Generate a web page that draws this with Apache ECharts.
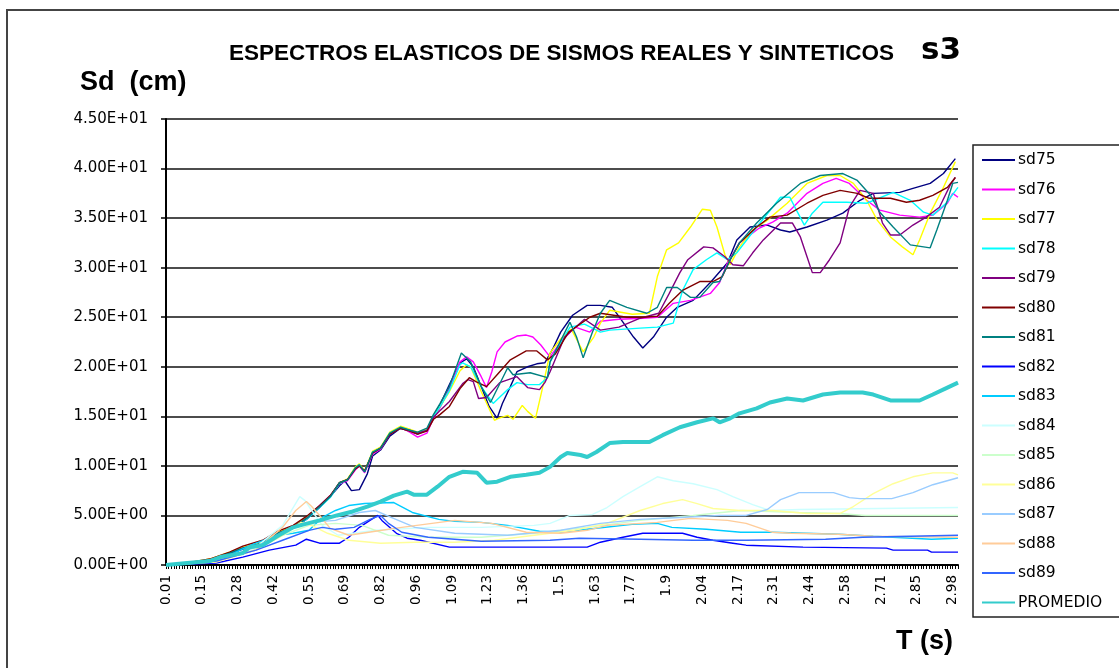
<!DOCTYPE html>
<html>
<head>
<meta charset="utf-8">
<script src="https://cdn.jsdelivr.net/npm/echarts@6/dist/echarts.min.js"></script>
<style>
  html, body { margin: 0; padding: 0; background: #fff; }
  #chart { width: 1119px; height: 668px; }
</style>
</head>
<body>
<div id="chart"></div>
<script>
// Period grid T (s): 0.01 .. 3.00 every 0.005 s
const categories = [];
for (let i = 0; i <= 598; i++) categories.push((0.01 + i * 0.005).toFixed(3));

// Printed period labels, one every 27 periods
const xTickLabels = ['0.01','0.15','0.28','0.42','0.55','0.69','0.82','0.96','1.09','1.23','1.36','1.5',
  '1.63','1.77','1.9','2.04','2.17','2.31','2.44','2.58','2.71','2.85','2.98'];

const seriesNames = ['sd75','sd76','sd77','sd78','sd79','sd80','sd81','sd82','sd83','sd84','sd85','sd86','sd87','sd88','sd89','PROMEDIO'];

// Spectral displacement Sd (cm) as [T, Sd] pairs
const sd75 = [[0.01,0],[0.09,0.2],[0.175,0.5],[0.25,1.1],[0.30,1.6],[0.375,2.1],[0.43,3.0],[0.49,3.7],[0.54,4.6],[0.59,5.8],[0.63,6.9],[0.665,8.0],[0.685,8.5],[0.71,7.5],[0.74,7.6],[0.77,9.2],[0.79,11.0],[0.82,11.6],[0.855,13.0],[0.895,13.8],[0.93,13.5],[0.96,13.2],[0.995,13.6],[1.02,15.0],[1.045,16.2],[1.08,18.2],[1.12,20.4],[1.145,20.8],[1.17,20.0],[1.2,18.0],[1.23,16.0],[1.26,14.8],[1.28,16.3],[1.31,18.0],[1.335,19.5],[1.375,20.0],[1.41,20.3],[1.44,20.4],[1.47,21.8],[1.5,23.5],[1.545,25.2],[1.6,26.2],[1.65,26.2],[1.695,26.0],[1.735,24.5],[1.775,23.0],[1.81,21.9],[1.85,23.0],[1.9,25.0],[1.94,26.0],[2.0,26.7],[2.065,28.5],[2.13,30.5],[2.165,32.8],[2.215,34.1],[2.28,34.3],[2.33,33.8],[2.365,33.6],[2.43,34.1],[2.505,34.8],[2.565,35.5],[2.63,36.8],[2.68,37.5],[2.78,37.6],[2.83,38.0],[2.895,38.5],[2.945,39.5],[2.99,41.0]];
const sd76 = [[0.01,0],[0.09,0.2],[0.175,0.5],[0.25,1.2],[0.30,1.7],[0.375,2.3],[0.43,3.2],[0.49,3.9],[0.54,4.8],[0.59,6.0],[0.63,7.0],[0.665,8.2],[0.695,8.5],[0.725,9.6],[0.74,10.0],[0.76,9.3],[0.79,11.2],[0.82,11.7],[0.855,13.2],[0.895,13.9],[0.93,13.4],[0.96,12.9],[0.995,13.3],[1.02,14.8],[1.045,15.9],[1.08,17.8],[1.12,20.5],[1.145,21.0],[1.17,20.5],[1.2,19.0],[1.22,17.9],[1.24,19.5],[1.26,21.5],[1.29,22.5],[1.335,23.1],[1.37,23.2],[1.395,23.0],[1.425,22.2],[1.445,21.5],[1.46,21.0],[1.5,22.5],[1.555,24.0],[1.61,23.5],[1.65,24.6],[1.72,24.8],[1.81,24.9],[1.865,25.0],[1.925,26.4],[1.99,26.7],[2.065,27.4],[2.1,28.5],[2.13,30.5],[2.175,32.5],[2.25,34.0],[2.3,34.6],[2.355,35.5],[2.43,37.5],[2.49,38.5],[2.54,39.0],[2.59,38.5],[2.655,36.8],[2.705,35.8],[2.78,35.3],[2.855,35.1],[2.905,35.3],[2.96,36.5],[2.98,37.5],[3.0,37.1]];
const sd77 = [[0.01,0],[0.09,0.2],[0.175,0.6],[0.25,1.3],[0.30,1.8],[0.375,2.3],[0.43,3.3],[0.49,3.9],[0.54,4.8],[0.59,5.9],[0.63,6.9],[0.665,8.3],[0.695,8.7],[0.725,9.9],[0.74,10.2],[0.76,9.5],[0.79,11.5],[0.82,11.9],[0.855,13.4],[0.895,14.0],[0.93,13.7],[0.96,13.4],[0.995,13.7],[1.02,15.0],[1.045,16.0],[1.08,17.5],[1.12,19.6],[1.145,20.2],[1.16,20.0],[1.2,17.5],[1.25,14.6],[1.265,14.8],[1.3,15.1],[1.32,14.7],[1.355,16.1],[1.375,15.5],[1.405,14.8],[1.43,17.7],[1.46,21.4],[1.5,22.8],[1.54,23.8],[1.585,21.5],[1.625,23.0],[1.65,24.4],[1.685,25.7],[1.77,25.3],[1.835,25.4],[1.865,29.1],[1.9,31.8],[1.945,32.5],[1.99,34.1],[2.035,35.9],[2.065,35.8],[2.09,34.1],[2.12,31.3],[2.14,30.3],[2.175,32.1],[2.225,33.8],[2.28,34.8],[2.355,36.5],[2.43,38.5],[2.505,39.3],[2.555,39.3],[2.605,38.5],[2.655,36.8],[2.695,34.8],[2.745,33.1],[2.79,32.1],[2.83,31.3],[2.855,32.8],[2.895,35.5],[2.945,38.1],[2.99,40.7]];
const sd78 = [[0.01,0],[0.09,0.2],[0.175,0.5],[0.25,1.2],[0.30,1.7],[0.375,2.2],[0.43,3.1],[0.49,3.8],[0.54,4.6],[0.59,5.8],[0.63,6.8],[0.665,8.2],[0.695,8.6],[0.725,9.8],[0.74,10.1],[0.76,9.4],[0.79,11.4],[0.82,11.8],[0.855,13.3],[0.895,13.9],[0.93,13.6],[0.96,13.3],[0.995,13.6],[1.02,15.0],[1.045,16.0],[1.08,17.6],[1.12,20.2],[1.13,20.4],[1.16,20.0],[1.2,18.0],[1.245,16.3],[1.3,17.7],[1.335,18.4],[1.375,18.2],[1.42,18.2],[1.45,18.9],[1.46,20.5],[1.535,24.0],[1.59,24.3],[1.65,23.5],[1.685,23.7],[1.8,23.9],[1.865,24.0],[1.925,24.4],[1.96,27.7],[2.0,29.8],[2.05,30.8],[2.09,31.5],[2.13,30.8],[2.165,31.5],[2.24,34.1],[2.3,36.1],[2.33,37.1],[2.365,37.1],[2.39,35.8],[2.42,34.3],[2.45,35.5],[2.49,36.6],[2.58,36.6],[2.655,36.5],[2.755,37.6],[2.82,36.8],[2.87,35.6],[2.905,35.3],[2.955,36.5],[3.0,38.1]];
const sd79 = [[0.01,0],[0.09,0.2],[0.175,0.5],[0.25,1.2],[0.30,1.7],[0.375,2.2],[0.43,3.2],[0.49,3.8],[0.54,4.7],[0.59,5.9],[0.63,6.9],[0.665,8.3],[0.695,8.6],[0.725,9.7],[0.74,10.0],[0.76,9.4],[0.79,11.3],[0.82,11.8],[0.855,13.2],[0.895,13.8],[0.93,13.6],[0.96,13.3],[0.995,13.6],[1.02,14.9],[1.045,15.6],[1.08,16.5],[1.13,18.3],[1.15,18.7],[1.17,18.5],[1.19,16.8],[1.22,16.9],[1.27,18.4],[1.335,19.0],[1.375,17.9],[1.42,17.7],[1.44,18.4],[1.46,19.5],[1.515,23.0],[1.59,24.8],[1.65,23.7],[1.72,24.0],[1.8,24.9],[1.87,25.4],[1.91,27.4],[1.95,29.5],[1.98,30.8],[2.04,32.1],[2.075,32.0],[2.12,31.1],[2.15,30.3],[2.19,30.2],[2.225,31.5],[2.265,32.8],[2.33,34.5],[2.375,34.5],[2.405,33.1],[2.43,31.1],[2.45,29.5],[2.48,29.5],[2.515,30.8],[2.555,32.5],[2.59,36.1],[2.63,37.8],[2.68,37.5],[2.715,34.5],[2.745,33.3],[2.78,33.3],[2.83,34.3],[2.88,35.1],[2.93,36.1],[2.97,38.3],[2.99,39.1]];
const sd80 = [[0.01,0],[0.09,0.2],[0.175,0.6],[0.25,1.3],[0.30,1.9],[0.375,2.5],[0.43,3.4],[0.49,4.0],[0.54,4.9],[0.59,6.0],[0.63,7.0],[0.665,8.3],[0.695,8.6],[0.725,9.7],[0.74,10.0],[0.76,9.5],[0.79,11.3],[0.82,11.8],[0.855,13.2],[0.895,13.8],[0.93,13.5],[0.96,13.2],[0.995,13.5],[1.02,14.7],[1.045,15.2],[1.08,16.0],[1.12,17.8],[1.155,18.9],[1.18,18.5],[1.22,18.0],[1.26,19.2],[1.31,20.7],[1.37,21.6],[1.41,21.6],[1.45,20.7],[1.48,21.3],[1.53,23.5],[1.61,25.0],[1.65,25.4],[1.75,25.0],[1.81,25.0],[1.865,25.1],[1.91,26.4],[1.96,27.7],[2.025,28.6],[2.075,28.6],[2.11,29.1],[2.14,30.8],[2.175,32.5],[2.24,34.1],[2.29,35.1],[2.355,35.3],[2.43,36.5],[2.49,37.3],[2.555,37.8],[2.62,37.5],[2.665,37.0],[2.745,37.0],[2.805,36.6],[2.855,36.8],[2.905,37.3],[2.96,38.1],[2.99,39.1]];
const sd81 = [[0.01,0],[0.09,0.2],[0.175,0.5],[0.25,1.2],[0.30,1.7],[0.375,2.2],[0.43,3.2],[0.49,3.8],[0.54,4.7],[0.59,5.9],[0.63,6.9],[0.665,8.3],[0.695,8.6],[0.725,9.8],[0.74,10.1],[0.76,9.4],[0.79,11.4],[0.82,11.8],[0.855,13.3],[0.895,13.9],[0.93,13.6],[0.96,13.4],[0.995,13.8],[1.02,15.2],[1.045,16.3],[1.08,18.0],[1.127,21.4],[1.16,20.5],[1.2,18.0],[1.235,16.4],[1.3,19.9],[1.32,19.2],[1.385,19.4],[1.45,18.9],[1.46,20.5],[1.535,24.5],[1.56,23.0],[1.585,20.9],[1.62,23.5],[1.65,25.4],[1.685,26.7],[1.75,26.0],[1.825,25.4],[1.865,26.0],[1.9,28.0],[1.94,28.0],[1.99,27.0],[2.025,27.0],[2.075,28.5],[2.1,28.6],[2.14,30.8],[2.175,32.5],[2.24,34.5],[2.315,36.5],[2.405,38.5],[2.48,39.3],[2.565,39.5],[2.62,38.8],[2.67,37.3],[2.705,35.6],[2.755,34.1],[2.82,32.3],[2.895,32.0],[2.92,33.8],[2.96,36.8],[2.98,38.5],[3.0,38.6]];
const sd82 = [[0.01,0],[0.2,0.2],[0.3,0.8],[0.4,1.5],[0.5,2.0],[0.54,2.6],[0.59,2.2],[0.63,2.2],[0.665,2.2],[0.7,2.8],[0.74,3.8],[0.78,4.5],[0.81,5.0],[0.825,4.5],[0.88,3.2],[0.92,2.7],[0.97,2.5],[1.08,1.8],[1.5,1.8],[1.6,1.8],[1.65,2.3],[1.735,2.8],[1.81,3.2],[1.96,3.2],[2.015,2.8],[2.075,2.5],[2.15,2.2],[2.2,2.0],[2.415,1.8],[2.73,1.7],[2.755,1.5],[2.885,1.5],[2.9,1.3],[3.0,1.3]];
const sd83 = [[0.01,0],[0.14,0.3],[0.25,1.0],[0.33,2.0],[0.43,3.0],[0.49,3.2],[0.55,3.5],[0.6,4.8],[0.65,5.5],[0.7,6.0],[0.76,6.2],[0.87,6.3],[0.94,5.3],[1.04,4.6],[1.1,4.4],[1.2,4.3],[1.3,4.0],[1.42,3.4],[1.5,3.3],[1.6,3.6],[1.77,4.1],[1.865,4.2],[1.92,3.8],[2.05,3.6],[2.18,3.3],[2.3,3.3],[2.55,3.1],[2.68,2.9],[2.9,2.6],[3.0,2.7]];
const sd84 = [[0.01,0],[0.2,0.5],[0.35,1.8],[0.45,4.0],[0.515,6.9],[0.535,6.5],[0.56,5.5],[0.6,4.0],[0.66,3.0],[0.8,3.5],[1.0,3.8],[1.2,3.8],[1.4,4.0],[1.46,4.2],[1.535,5.0],[1.62,5.1],[1.675,5.8],[1.735,6.9],[1.8,7.9],[1.865,8.9],[1.925,8.5],[2.0,8.2],[2.09,7.6],[2.15,6.9],[2.225,6.1],[2.29,5.5],[2.4,5.6],[3.0,5.8]];
const sd85 = [[0.01,0],[0.2,0.4],[0.35,1.6],[0.45,3.0],[0.55,4.0],[0.65,4.2],[0.75,4.0],[0.85,3.0],[1.0,2.8],[1.2,2.8],[1.4,3.2],[1.6,3.8],[1.8,4.5],[2.0,5.0],[2.18,5.5],[2.4,5.3],[2.55,5.2],[2.65,5.0],[3.0,5.0]];
const sd86 = [[0.01,0],[0.2,0.3],[0.35,1.5],[0.45,3.0],[0.52,4.3],[0.56,4.0],[0.62,3.2],[0.7,2.5],[0.82,2.2],[0.95,2.3],[1.1,2.3],[1.25,2.5],[1.4,3.0],[1.55,3.5],[1.675,4.2],[1.8,5.5],[1.885,6.2],[1.96,6.6],[2.015,6.2],[2.075,5.7],[2.175,5.5],[2.3,5.5],[2.43,5.2],[2.555,5.2],[2.605,5.9],[2.68,7.2],[2.755,8.2],[2.83,8.9],[2.905,9.3],[2.98,9.3],[3.0,9.1]];
const sd87 = [[0.01,0],[0.2,0.5],[0.35,1.8],[0.45,3.3],[0.55,4.3],[0.65,4.5],[0.74,5.3],[0.8,5.5],[0.86,4.8],[0.95,3.8],[1.1,3.2],[1.3,3.0],[1.5,3.5],[1.65,4.2],[1.8,4.6],[1.95,4.8],[2.1,5.0],[2.2,5.0],[2.28,5.6],[2.33,6.6],[2.4,7.3],[2.53,7.3],[2.59,6.8],[2.63,6.7],[2.75,6.7],[2.83,7.3],[2.905,8.1],[3.0,8.8]];
const sd88 = [[0.01,0],[0.2,0.4],[0.35,1.5],[0.45,3.8],[0.5,5.5],[0.54,6.4],[0.56,5.9],[0.59,5.0],[0.63,3.7],[0.7,3.0],[0.8,3.4],[0.9,3.8],[1.1,4.5],[1.24,4.2],[1.37,3.3],[1.5,3.2],[1.6,3.5],[1.675,4.0],[1.865,4.3],[1.99,4.7],[2.13,4.5],[2.2,4.2],[2.3,3.3],[2.37,3.2],[2.55,3.1],[2.68,2.9],[3.0,2.8]];
const sd89 = [[0.01,0],[0.2,0.4],[0.35,1.5],[0.45,2.5],[0.55,3.5],[0.6,3.8],[0.65,3.6],[0.72,3.8],[0.78,4.6],[0.82,5.0],[0.85,4.2],[0.9,3.3],[1.0,2.8],[1.2,2.4],[1.46,2.5],[1.57,2.7],[1.8,2.6],[2.0,2.5],[2.2,2.5],[2.5,2.6],[2.64,2.8],[3.0,3.0]];
const promedio = [[0.01,0],[0.09,0.2],[0.175,0.4],[0.215,0.8],[0.30,1.2],[0.325,1.8],[0.375,2.0],[0.43,2.9],[0.49,3.8],[0.53,4.1],[0.59,4.5],[0.655,5.0],[0.715,5.4],[0.77,5.9],[0.82,6.4],[0.87,7.0],[0.92,7.4],[0.945,7.1],[0.995,7.1],[1.035,7.9],[1.08,8.9],[1.13,9.4],[1.185,9.3],[1.22,8.3],[1.26,8.4],[1.31,8.9],[1.37,9.1],[1.42,9.3],[1.46,9.9],[1.5,10.9],[1.525,11.3],[1.575,11.1],[1.6,10.9],[1.635,11.4],[1.685,12.3],[1.735,12.4],[1.835,12.4],[1.885,13.1],[1.95,13.9],[2.015,14.4],[2.075,14.8],[2.1,14.4],[2.14,14.8],[2.175,15.3],[2.24,15.8],[2.29,16.4],[2.355,16.8],[2.415,16.6],[2.49,17.2],[2.555,17.4],[2.64,17.4],[2.68,17.2],[2.745,16.6],[2.855,16.6],[2.905,17.2],[2.96,17.9],[3.0,18.4]];

const seriesValues = [sd75, sd76, sd77, sd78, sd79, sd80, sd81, sd82, sd83, sd84, sd85, sd86, sd87, sd88, sd89, promedio];
const seriesColors = ['#000080','#FF00FF','#FFFF00','#00FFFF','#800080','#800000','#008080','#0000FF',
  '#00CCFF','#CCFFFF','#CCFFCC','#FFFF99','#99CCFF','#FFCC99','#3366FF','#33CCCC'];

// map a period to its category name on the axis
function toCat(t) { return categories[Math.round((t - 0.01) / 0.005)]; }

// 45 -> "4.50E+01"
function sci(v) {
  const parts = v.toExponential(2).split('e');
  const e = parseInt(parts[1], 10);
  const sign = e < 0 ? '-' : '+';
  return parts[0] + 'E' + sign + String(Math.abs(e)).padStart(2, '0');
}

const chart = echarts.init(document.getElementById('chart'), null, { renderer: 'canvas' });

const series = seriesNames.map((name, k) => ({
  name: name,
  type: 'line',
  symbol: 'none',
  animation: false,
  z: k === 15 ? 5 : 3,
  color: seriesColors[k],
  lineStyle: { color: seriesColors[k], width: k === 15 ? 4 : 1.4 },
  data: seriesValues[k].map(p => [toCat(p[0]), p[1]])
}));

chart.setOption({
  backgroundColor: '#ffffff',
  animation: false,
  grid: { left: 166, top: 119, right: 161, bottom: 103, containLabel: false },
  xAxis: {
    type: 'category',
    data: categories,
    boundaryGap: false,
    axisLine: { lineStyle: { color: '#000', width: 2 } },
    axisTick: { show: true, interval: 1, length: 4, lineStyle: { color: '#000', width: 1 } },
    axisLabel: {
      interval: 26,
      rotate: 90,
      margin: 10,
      color: '#000',
      fontFamily: 'DejaVu Sans',
      fontSize: 13.5,
      formatter: (v, i) => xTickLabels[Math.round(i / 27)]
    },
    splitLine: { show: false }
  },
  yAxis: {
    type: 'value',
    min: 0,
    max: 45,
    interval: 5,
    axisLine: { show: true, lineStyle: { color: '#000', width: 2 } },
    axisTick: { show: true, length: 5, lineStyle: { color: '#000', width: 1.5 } },
    axisLabel: { color: '#000', fontFamily: 'DejaVu Sans', fontSize: 15, margin: 18, formatter: sci },
    splitLine: { show: true, lineStyle: { color: '#111', width: 1.6 } }
  },
  legend: {
    orient: 'vertical',
    left: 981,
    top: 152,
    padding: 0,
    itemWidth: 33,
    itemHeight: 14,
    itemGap: 13.5,
    data: seriesNames,
    itemStyle: { opacity: 0, borderWidth: 0 },
    textStyle: { color: '#000', fontFamily: 'DejaVu Sans', fontSize: 15.5, lineHeight: 14, height: 14, padding: [0, 0, 0, -2] }
  },
  graphic: [
    { type: 'rect', silent: true, shape: { x: 7, y: 10, width: 1200, height: 700 },
      style: { fill: 'none', stroke: '#444', lineWidth: 2 } },
    { type: 'rect', silent: true, shape: { x: 973, y: 145, width: 200, height: 472 },
      style: { fill: 'none', stroke: '#222', lineWidth: 1.5 } },
    { type: 'text', left: 229, top: 42,
      style: { text: 'ESPECTROS ELASTICOS DE SISMOS REALES Y SINTETICOS', font: 'bold 22.5px "Liberation Sans"', fill: '#000' } },
    { type: 'text', left: 921, top: 35,
      style: { text: 's3', font: 'bold 31px "DejaVu Sans"', fill: '#000' } },
    { type: 'text', left: 80, top: 69,
      style: { text: 'Sd  (cm)', font: 'bold 27px "Liberation Sans"', fill: '#000' } },
    { type: 'text', left: 896, top: 628,
      style: { text: 'T (s)', font: 'bold 27px "Liberation Sans"', fill: '#000' } }
  ],
  series: series
});
</script>
</body>
</html>
